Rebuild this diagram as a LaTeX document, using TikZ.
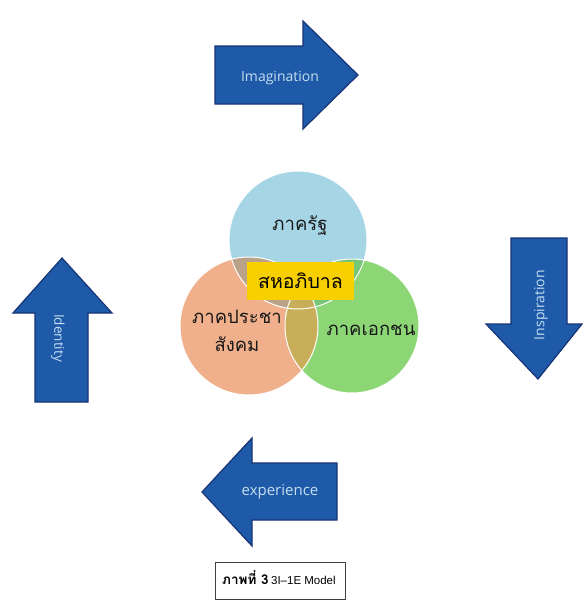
\documentclass[tikz,border=0pt]{standalone}
\usepackage{fontspec}
\setmainfont{Open Sans}
\newfontfamily\thaifont[Script=Thai]{Loma}
\newfontfamily\capfont{Liberation Sans}
\definecolor{arrowfill}{RGB}{30,90,168}
\definecolor{arrowedge}{RGB}{22,52,118}
\definecolor{arrowtext}{RGB}{196,222,240}
\definecolor{cblue}{RGB}{166,214,230}
\definecolor{corange}{RGB}{240,176,140}
\definecolor{cgreen}{RGB}{140,214,118}
\definecolor{ovbo}{RGB}{186,162,136}
\definecolor{ovog}{RGB}{200,174,88}
\definecolor{ovbg}{RGB}{118,198,120}
\definecolor{lblyellow}{RGB}{248,208,0}
\tikzset{
  bigarrow/.style={fill=arrowfill, draw=arrowedge, line width=1.2pt, line join=miter},
  arrowlabel/.style={text=arrowtext, font=\fontsize{14}{16}\selectfont, inner sep=0pt},
  thailabel/.style={font=\thaifont\fontsize{18.5}{20}\selectfont, text=black!90, inner sep=0pt},
  sepline/.style={draw=white, line width=1pt},
}
\begin{document}
\begin{tikzpicture}[x=1pt,y=-1pt]
\useasboundingbox (0,0) rectangle (582,605);
\fill[white] (0,0) rectangle (582,605);

% arrows
\draw[bigarrow] (215,46) -- (303,46) -- (303,21) -- (358,75) -- (303,129) -- (303,104) -- (215,104) -- cycle;
\node[arrowlabel] (imag) at (280,78) {Imagination};

\draw[bigarrow] (62,258) -- (112,313) -- (88,313) -- (88,402) -- (35,402) -- (35,313) -- (13,313) -- cycle;
\node[arrowlabel, rotate=-90, font=\fontsize{13.5}{15}\selectfont] (ident) at (58,338) {Identity};

\draw[bigarrow] (511,238) -- (567,238) -- (567,324) -- (582,324) -- (538,379) -- (486,324) -- (511,324) -- cycle;
\node[arrowlabel, rotate=90] (insp) at (541,305) {Inspiration};

\draw[bigarrow] (202,492) -- (252,438) -- (252,463) -- (337,463) -- (337,520) -- (252,520) -- (252,546) -- cycle;
\node[arrowlabel, font=\fontsize{15}{17}\selectfont] (exper) at (280,492) {experience};

% venn circles
\coordinate (cb) at (298,240);
\coordinate (co) at (249,326);
\coordinate (cg) at (352,326);
\fill[cblue] (cb) circle[radius=69];
\fill[corange] (co) circle[radius=69];
\fill[cgreen] (cg) circle[radius=67];
\begin{scope}
  \clip (cb) circle[radius=69];
  \fill[ovbo] (co) circle[radius=69];
  \fill[ovbg] (cg) circle[radius=67];
\end{scope}
\begin{scope}
  \clip (co) circle[radius=69];
  \fill[ovog] (cg) circle[radius=67];
\end{scope}
\draw[sepline] (cb) circle[radius=69];
\draw[sepline] (co) circle[radius=69];
\draw[sepline] (cg) circle[radius=67];

\node[thailabel] (state) at (300,226) {ภาครัฐ};
\node[thailabel, align=center, font=\thaifont\fontsize{18.5}{28}\selectfont] (civil) at (237,331) {ภาคประชา\\สังคม};
\node[thailabel] (private) at (371,330) {ภาคเอกชน};

\node[fill=lblyellow, minimum width=107pt, minimum height=38pt, inner sep=0pt,
      font=\thaifont\fontsize{19.5}{22}\selectfont, text=black] (gov) at (300.5,281) {สหอภิบาล};

% caption
\node[draw=black!75, line width=0.6pt, minimum width=130pt, minimum height=37pt, inner sep=0pt,
      anchor=north west] (capbox) at (215,562) {};
\node[inner sep=0pt, anchor=west] (captxt) at (222,578)
  {{\thaifont\bfseries\fontsize{13.5}{15}\selectfont ภาพที่ 3} {\capfont\fontsize{11.5}{13}\selectfont 3I–1E Model}};
\end{tikzpicture}
\end{document}
